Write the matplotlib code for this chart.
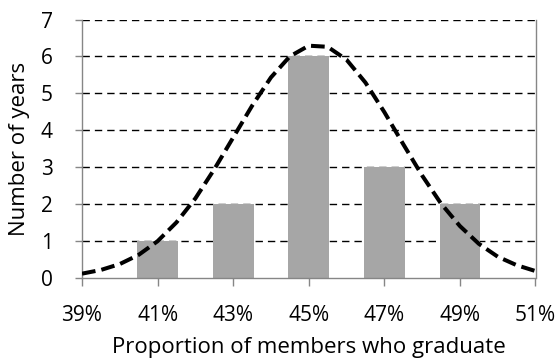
import matplotlib.pyplot as plt

# bar data: graduation proportion (%) -> number of years
proportions = [41, 43, 45, 47, 49]
years = [1, 2, 6, 3, 2]

# fitted curve, every 0.5%
curve_x = [39, 39.5, 40, 40.5, 41, 41.5, 42, 42.5, 43, 43.5, 44, 44.5, 45,
           45.5, 46, 46.5, 47, 47.5, 48, 48.5, 49, 49.5, 50, 50.5, 51]
curve_y = [0.11, 0.21, 0.37, 0.62, 0.99, 1.50, 2.15, 2.94, 3.80, 4.66, 5.43, 6.00, 6.29,
           6.26, 5.91, 5.29, 4.49, 3.62, 2.77, 2.01, 1.40, 0.92, 0.57, 0.34, 0.18]

x_ticks = [39, 41, 43, 45, 47, 49, 51]
x_labels = ["39%", "41%", "43%", "45%", "47%", "49%", "51%"]

plt.rcParams['font.family'] = ['Open Sans', 'DejaVu Sans']

fig = plt.figure(figsize=(5.57, 3.62), dpi=100)
ax = fig.add_axes([82 / 557, 1 - 277.7 / 362, (535.5 - 82) / 557, (277.7 - 19.5) / 362])

# dashed horizontal grid behind the bars
for y in range(1, 8):
    ax.axhline(y, color="black", linestyle=(0, (5.3, 3.6)), linewidth=1.0, zorder=1)

ax.bar(proportions, years, width=1.08, color="#a6a6a6", zorder=2)
ax.plot(curve_x, curve_y, color="black", linestyle=(0, (3.4, 1.5)), linewidth=2.9,
        zorder=3)

ax.set_xlim(39, 51)
ax.set_ylim(0, 7)
ax.set_xticks(x_ticks)
ax.set_xticklabels(x_labels)
ax.set_yticks(range(0, 8))

for side in ["left", "bottom", "right"]:
    ax.spines[side].set_color("#868686")
    ax.spines[side].set_linewidth(1.0)
ax.spines["top"].set_visible(False)

ax.tick_params(axis="both", colors="#868686", labelcolor="black", labelsize=15,
               width=1.0, direction="out")
ax.tick_params(axis="x", length=6, pad=14)
ax.tick_params(axis="y", length=5, pad=16)

ax.set_xlabel("Proportion of members who graduate", fontsize=16, va="center")
ax.set_ylabel("Number of years", fontsize=16, va="center")
ax.xaxis.set_label_coords(0.5, (277.7 - 347.5) / 258.2)
ax.yaxis.set_label_coords((20 - 82) / 453.5, 0.5)

fig.savefig("out.png", dpi=100)
